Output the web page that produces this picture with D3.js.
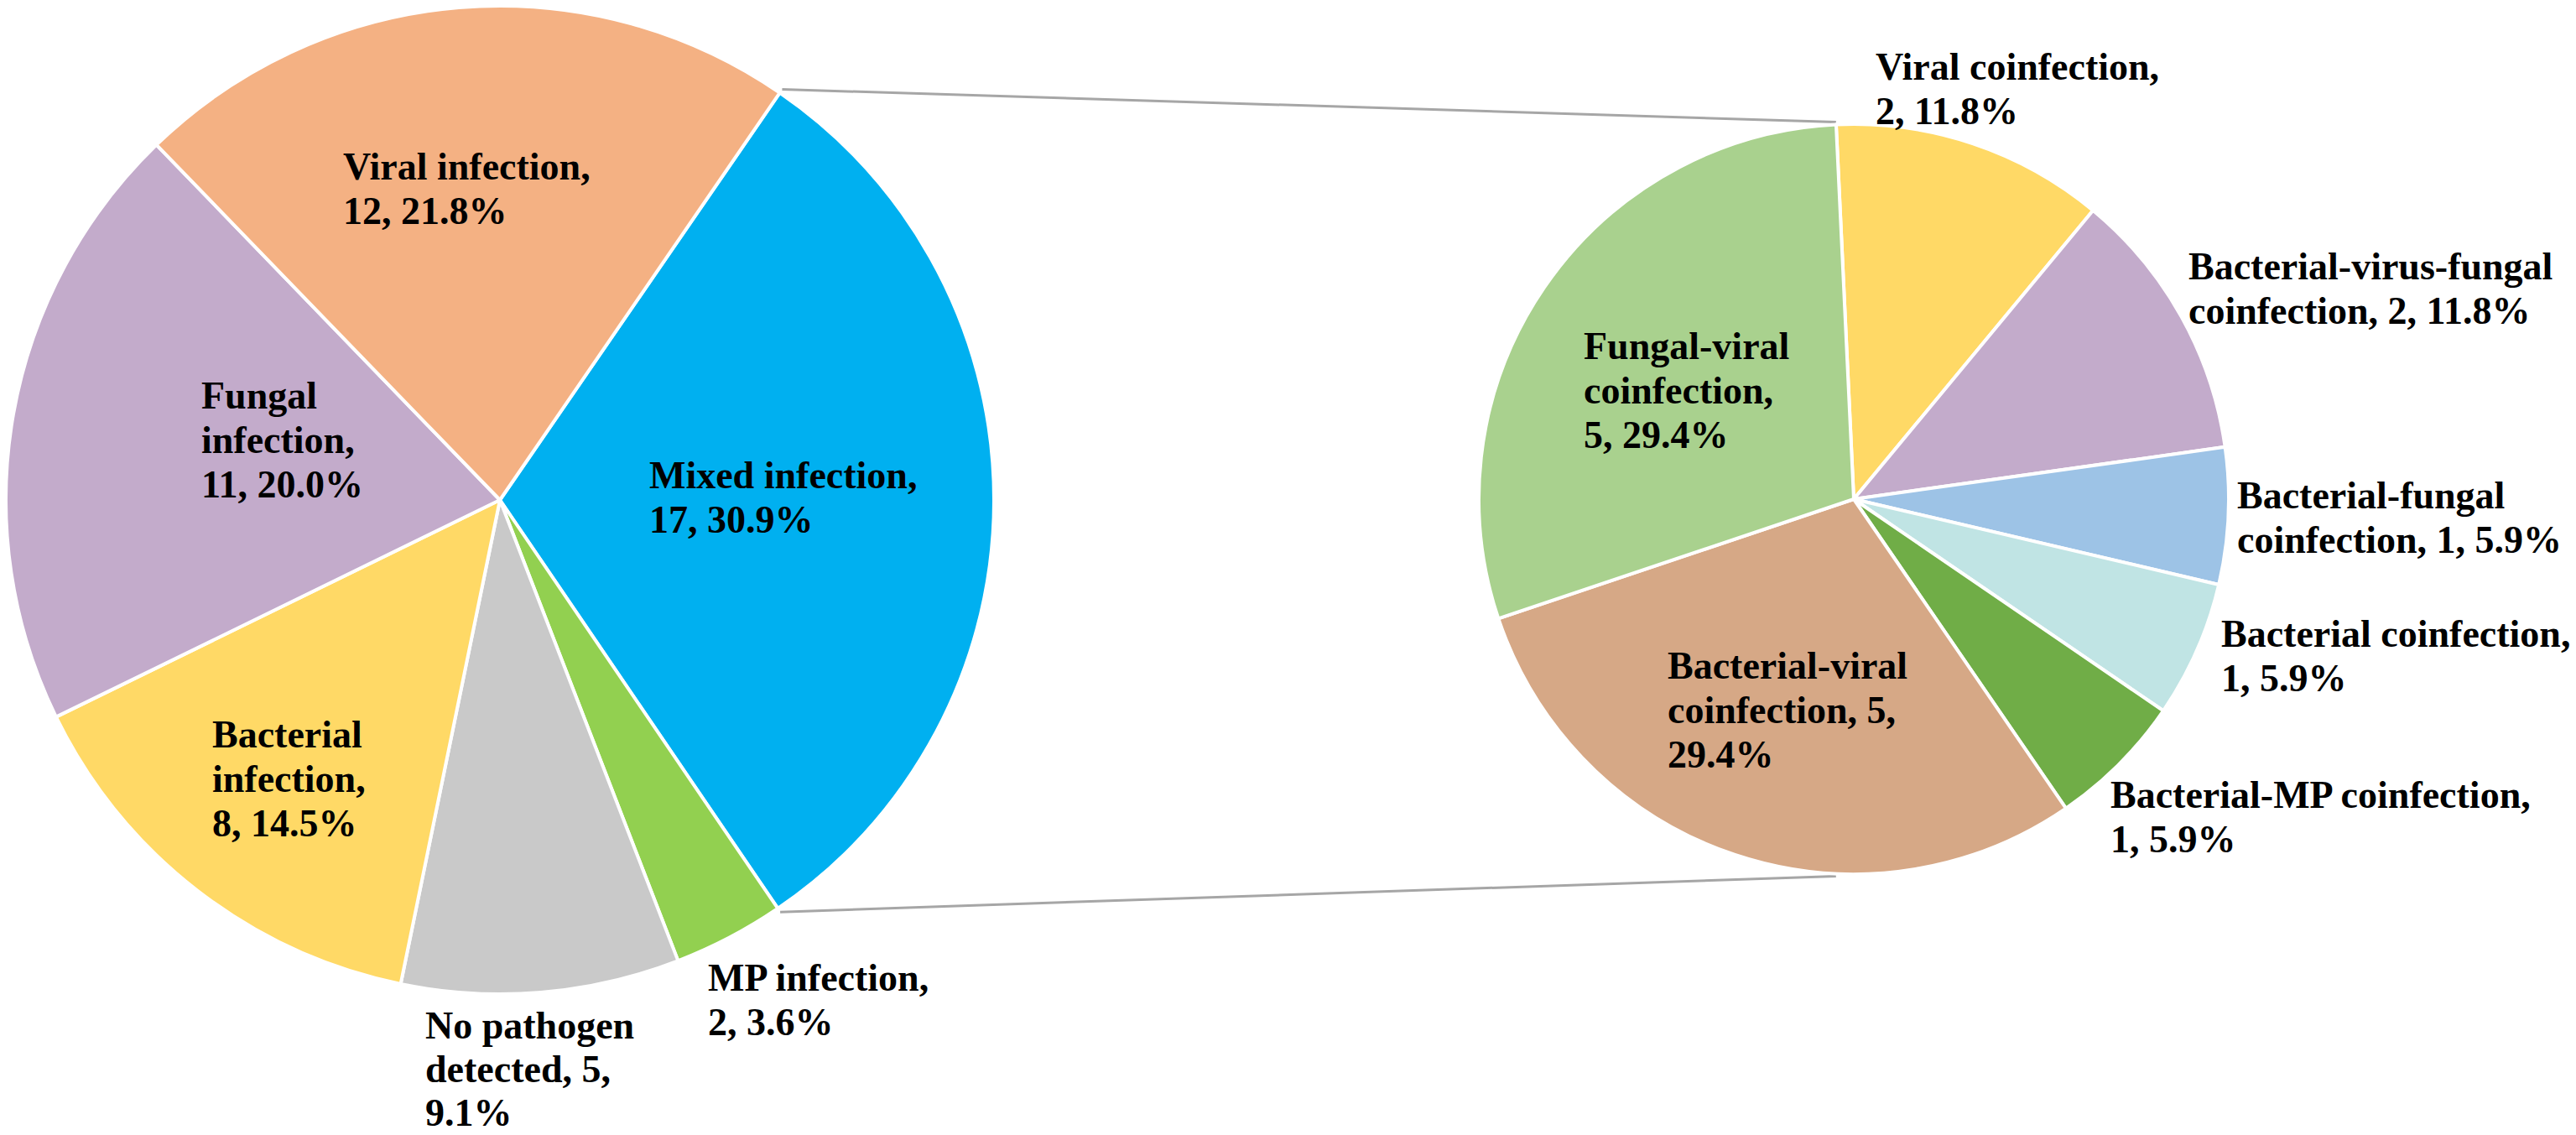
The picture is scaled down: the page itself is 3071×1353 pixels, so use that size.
<html>
<head>
<meta charset="utf-8">
<script src="https://d3js.org/d3.v7.min.js"></script>
<style>
    body, html {
        margin: 0;
        padding: 0;
        background: #fff;
    }
    .lbl {
        font-family: "Liberation Serif", "Times New Roman", serif;
        font-weight: bold;
        font-size: 46px;
        fill: #000;
    }
</style>
</head>
<body>
<div id="chart"></div>
<script>

// main pie (clockwise, starting with Mixed infection)
var mainNames = ["Mixed infection", "MP infection", "No pathogen detected",
                 "Bacterial infection", "Fungal infection", "Viral infection"];
var mainCounts = [17, 2, 5, 8, 11, 12];
var mainColors = ["#00B0F0", "#92D050", "#C9C9C9", "#FFD966", "#C3ABCB", "#F4B183"];
var mainLines = [
    ["Mixed infection,", "17, 30.9%"],
    ["MP infection,", "2, 3.6%"],
    ["No pathogen", "detected, 5,", "9.1%"],
    ["Bacterial", "infection,", "8, 14.5%"],
    ["Fungal", "infection,", "11, 20.0%"],
    ["Viral infection,", "12, 21.8%"]
];

// secondary pie: breakdown of mixed infection
var subNames = ["Viral coinfection", "Bacterial-virus-fungal coinfection",
                "Bacterial-fungal coinfection", "Bacterial coinfection",
                "Bacterial-MP coinfection", "Bacterial-viral coinfection",
                "Fungal-viral coinfection"];
var subCounts = [2, 2, 1, 1, 1, 5, 5];
var subColors = ["#FFD966", "#C3ABCB", "#9DC3E6", "#C0E4E4", "#70AD47", "#D6A886", "#A9D18E"];
var subLines = [
    ["Viral coinfection,", "2, 11.8%"],
    ["Bacterial-virus-fungal", "coinfection, 2, 11.8%"],
    ["Bacterial-fungal", "coinfection, 1, 5.9%"],
    ["Bacterial coinfection,", "1, 5.9%"],
    ["Bacterial-MP coinfection,", "1, 5.9%"],
    ["Bacterial-viral", "coinfection, 5,", "29.4%"],
    ["Fungal-viral", "coinfection,", "5, 29.4%"]
];

var W = 3071, H = 1353;
var lineH = 53;
var deg = Math.PI / 180;

var svg = d3.select("#chart").append("svg")
    .attr("width", W)
    .attr("height", H);

svg.append("rect").attr("width", W).attr("height", H).attr("fill", "#fff");

// geometry
var main = {cx: 596, cy: 596, r: 589, start: 34.5 * deg};
var sub = {cx: 2210, cy: 595, r: 447, start: -2.7 * deg};

// label anchors (left edge, first baseline, line step), hand placed like the original
var mainLabelPos = [[774, 582, 53], [844, 1181, 53], [507, 1238, 52], [253, 891, 53], [240, 487, 53], [409, 214, 53]];
var subLabelPos = [[2236, 95, 53], [2609, 333, 53], [2667, 606, 53], [2648, 771, 53], [2516, 963, 53], [1988, 809, 53], [1888, 428, 53]];

function drawPie(cfg, counts, colors, lines, pos) {
    var pie = d3.pie().sort(null).value(function(d) { return d; })
        .startAngle(cfg.start).endAngle(cfg.start + 2 * Math.PI);
    var arcs = pie(counts);
    var arc = d3.arc().innerRadius(0).outerRadius(cfg.r);

    var g = svg.append("g").attr("transform", "translate(" + cfg.cx + "," + cfg.cy + ")");
    g.selectAll("path")
        .data(arcs)
        .enter()
        .append("path")
        .attr("d", arc)
        .attr("fill", function(d, i) { return colors[i]; })
        .attr("stroke", "#fff")
        .attr("stroke-width", 4)
        .attr("stroke-linejoin", "round");

    var t = svg.append("g").selectAll("text")
        .data(lines)
        .enter()
        .append("text")
        .attr("class", "lbl")
        .attr("x", function(d, i) { return pos[i][0]; })
        .attr("y", function(d, i) { return pos[i][1]; });
    t.each(function(d, i) {
        var el = d3.select(this);
        d.forEach(function(s, k) {
            el.append("tspan")
                .attr("x", pos[i][0])
                .attr("y", pos[i][1] + k * pos[i][2])
                .text(s);
        });
    });
    return arcs;
}

// connector lines first so the pies sit on top
var mainArcs = d3.pie().sort(null).value(function(d) { return d; })
    .startAngle(main.start).endAngle(main.start + 2 * Math.PI)(mainCounts);
var mixed = mainArcs[0];
function pt(cfg, a, rr) {
    return [cfg.cx + rr * Math.sin(a), cfg.cy - rr * Math.cos(a)];
}
var p1 = pt(main, mixed.startAngle, main.r + 5);
var p2 = pt(main, mixed.endAngle, main.r + 5);
var q1 = pt(sub, sub.start, sub.r + 3);
var q2 = [q1[0], 2 * sub.cy - q1[1]];

svg.append("line")
    .attr("x1", p1[0]).attr("y1", p1[1])
    .attr("x2", q1[0]).attr("y2", q1[1])
    .attr("stroke", "#A6A6A6").attr("stroke-width", 3);
svg.append("line")
    .attr("x1", p2[0]).attr("y1", p2[1])
    .attr("x2", q2[0]).attr("y2", q2[1])
    .attr("stroke", "#A6A6A6").attr("stroke-width", 3);

drawPie(main, mainCounts, mainColors, mainLines, mainLabelPos);
drawPie(sub, subCounts, subColors, subLines, subLabelPos);

</script>
</body>
</html>
